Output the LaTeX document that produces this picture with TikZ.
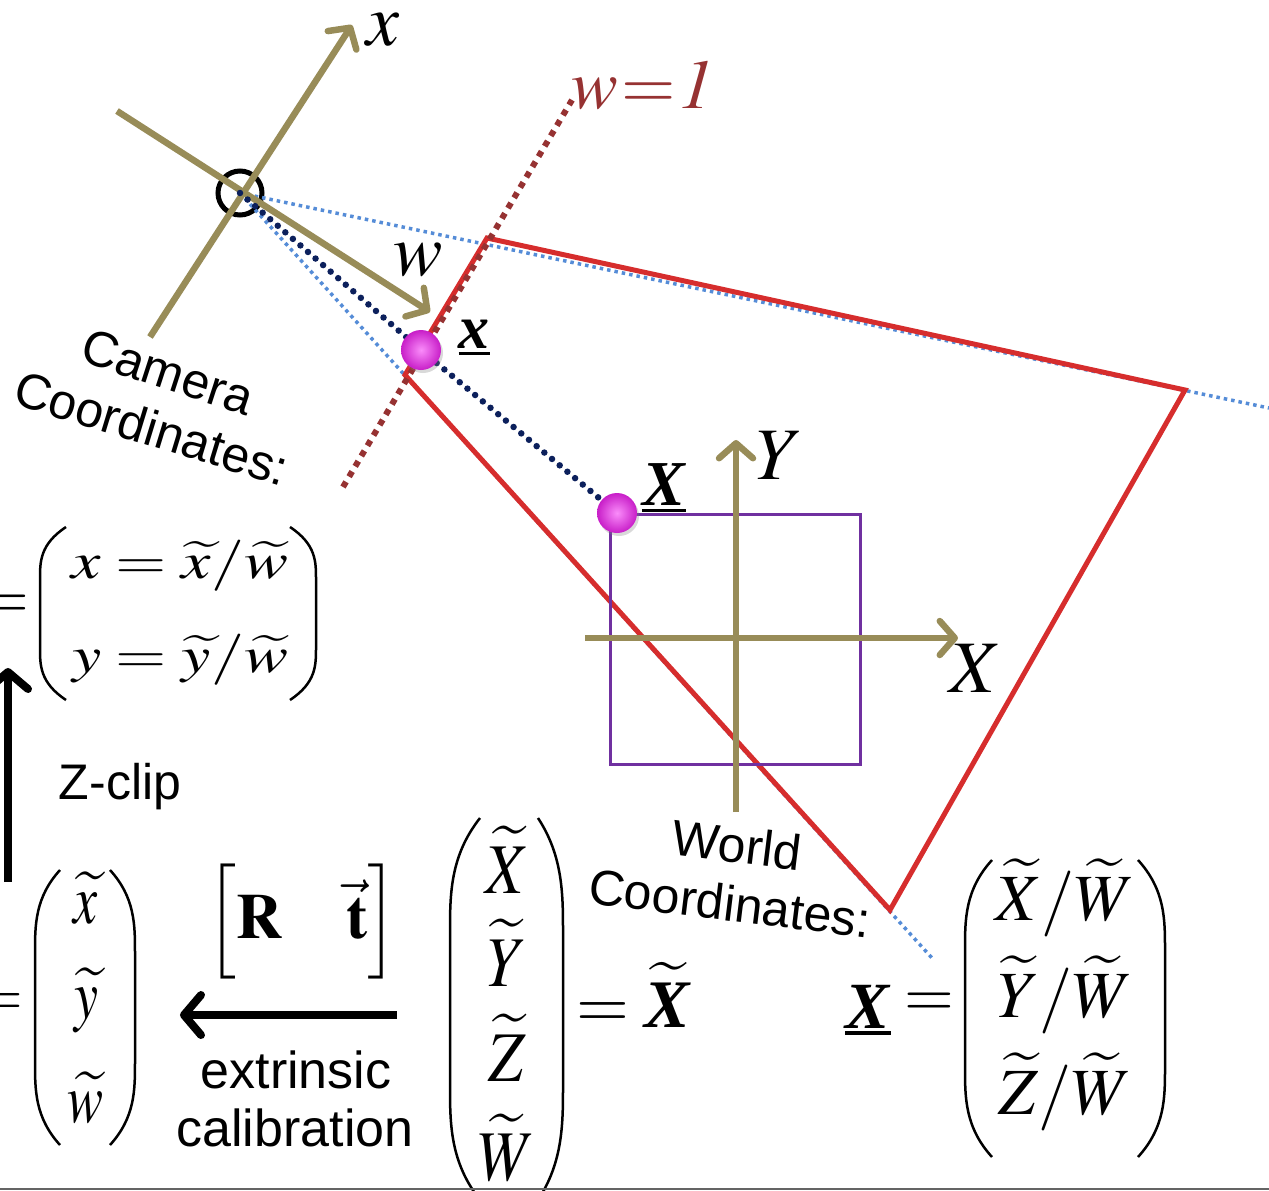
\documentclass[tikz,border=0pt]{standalone}
\usepackage{mathptmx}
\usepackage[no-math]{fontspec}
\setmainfont{Liberation Serif}
\setsansfont{Liberation Sans}
\usepackage{graphicx}
\usetikzlibrary{arrows.meta,shadows}
\definecolor{olive}{RGB}{152,140,88}
\definecolor{camred}{RGB}{214,45,45}
\definecolor{wred}{RGB}{150,50,50}
\definecolor{lblue}{RGB}{85,140,215}
\definecolor{navy}{RGB}{12,32,92}
\definecolor{purp}{RGB}{112,48,160}
\definecolor{ballin}{RGB}{250,140,250}
\definecolor{ballout}{RGB}{200,30,200}
\definecolor{bottomgray}{RGB}{100,100,100}
\newcommand\fs[1]{\fontsize{#1}{#1}\selectfont}
\newcommand\ubar[1]{\leavevmode\vtop{\hbox{#1}\kern3pt\hrule height 3.5pt}}
\newcommand\bxi{\textbf{\textit{X}}}
% outer x, inner x, top y, bottom y
\newcommand\bigparen[4]{\draw[paren] (#2,#3) .. controls (#1,{#3+0.10*(#4-#3)}) and (#1,{#3+0.2*(#4-#3)}) .. (#1,{#3+0.3*(#4-#3)}) -- (#1,{#4-0.3*(#4-#3)}) .. controls (#1,{#4-0.2*(#4-#3)}) and (#1,{#4-0.10*(#4-#3)}) .. (#2,#4);}
\begin{document}
\begin{tikzpicture}[x=1pt,y=-1pt,
  axis/.style={olive, line width=6.5pt, -{Straight Barb[length=15pt,width=34pt,round]}},
  blackarrow/.style={black, line width=8pt, -{Straight Barb[length=17pt,width=40pt,round]}},
  lbdot/.style={lblue, line width=3.5pt, dash pattern=on 3.5pt off 4pt},
  navydot/.style={navy, line width=6.5pt, line cap=round, dash pattern=on 0pt off 10pt},
  wdot/.style={wred, line width=6pt, dash pattern=on 6pt off 6pt},
  redline/.style={camred, line width=5pt},
  paren/.style={black, line width=2.5pt},
  ball/.style={circle, inner sep=0pt, minimum size=40pt, inner color=ballin, outer color=ballout, drop shadow={opacity=0.3, shadow xshift=2pt, shadow yshift=-3pt}},
  sans/.style={font=\sffamily\fs{50}, inner sep=0pt},
  lab/.style={inner sep=0pt},
]
\useasboundingbox (0,0) rectangle (1269,1191);
\clip (0,0) rectangle (1269,1191);

% coordinates
\coordinate (camx0) at (150,337); \coordinate (camx1) at (352,25);
\coordinate (camw0) at (117,111); \coordinate (camw1) at (430,312);
\coordinate (w1a) at (343,487); \coordinate (w1b) at (572,100);
\coordinate (r1) at (487,238); \coordinate (r2) at (1185,390);
\coordinate (r3) at (890,910); \coordinate (r4) at (405,375);
\coordinate (br) at (1269,408); \coordinate (bd) at (932,958);
\coordinate (Ya) at (736,812); \coordinate (Yb) at (736,440);
\coordinate (Xa) at (585,638); \coordinate (Xb) at (958,638);
\coordinate (za) at (8,882); \coordinate (zb) at (8,668);
\coordinate (ea) at (397,1015); \coordinate (eb) at (180,1015);
\coordinate (gl) at (0,1189); \coordinate (gr) at (1269,1189);
\coordinate (xpc) at (421,350); \coordinate (Xpc) at (617,513);

\node[circle, draw=black, line width=5pt, minimum size=44pt, inner sep=0pt] (C) at (240,193) {};

% rays
\draw[lbdot] (C.center) -- (br);
\draw[lbdot] (C.center) -- (bd);

% image plane quad
\draw[redline] (r1) -- (r2) -- (r3) -- (r4) -- cycle;
% w=1 plane
\draw[wdot] (w1a) -- (w1b);

% world square and axes
\draw[purp, line width=3pt] (610,514) rectangle (860,764);
\draw[axis] (Ya) -- (Yb);
\draw[axis] (Xa) -- (Xb);

% camera axes
\draw[axis] (camx0) -- (camx1);
\draw[axis] (camw0) -- (camw1);

% ray through points
\draw[navydot] (C.center) -- (xpc) -- (Xpc);
\node[ball] (xp) at (xpc) {};
\node[ball] (Xp) at (Xpc) {};

% labels
\node[lab] (lx) at (383,30) {\fs{74}$x$};
\node[lab] (lw) at (418,260) {\fs{74}$w$};
\node[lab, text=wred] (lw1) at (643,86) {\fs{70}$w\mkern-3mu=\mkern-3mu\mathit{1}$};
\node[lab] (lxu) at (474,338) {\fs{62}\ubar{\textbf{\textit{x}}}};
\node[lab] (lXu) at (664,488) {\fs{64}\ubar{\bxi}};
\node[lab] (lY) at (780,455) {\fs{74}$Y$};
\node[lab] (lX) at (976,668) {\fs{74}$X$};

\node[sans, rotate=-18] (ct1) at (168,372) {Camera};
\node[sans, rotate=-17] (ct2) at (152,428) {Coordinates:};
\node[sans, rotate=-7] (wt1) at (737,845) {World};
\node[sans, rotate=-7] (wt2) at (730,903) {Coordinates:};

% top-left matrix
\node[lab] (eqtop) at (4,607) {\fs{64}$=$};
\bigparen{40}{66}{527}{700}
\bigparen{316}{290}{527}{700}
\node[lab] (mt1) at (180,566) {\scalebox{1.03}[0.8]{\fs{64}$x=\widetilde{x}/\widetilde{w}$}};
\node[lab] (mt2) at (180,660) {\scalebox{1.03}[0.8]{\fs{64}$y=\widetilde{y}/\widetilde{w}$}};

% z-clip
\draw[blackarrow] (za) -- (zb);
\node[sans] (zclip) at (120,787) {Z-clip};

% bottom-left vector
\node[lab] (eqbl) at (0,1005) {\fs{60}$=$};
\bigparen{35}{60}{870}{1145}
\bigparen{135}{110}{870}{1145}
\node[lab] (v1) at (86,898) {\scalebox{1}[1.3]{\fs{54}$\widetilde{x}$}};
\node[lab] (v2) at (86,1000) {\scalebox{1}[1.3]{\fs{54}$\widetilde{y}$}};
\node[lab] (v3) at (86,1098) {\scalebox{1}[1.3]{\fs{54}$\widetilde{w}$}};

% extrinsic
\node[lab] (Rt) at (302,922) {\fs{64}$\left[\mathbf{R}\quad\vec{\mathbf{t}}\right]$};
\draw[blackarrow] (ea) -- (eb);
\node[sans] (ext1) at (296,1070) {\fs{52}extrinsic};
\node[sans] (ext2) at (295,1128) {\fs{52}calibration};

% big homogeneous vector
\bigparen{450}{480}{818}{1200}
\bigparen{563}{538}{818}{1200}
\node[lab] (h1) at (507,860) {\scalebox{1}[1.15]{\fs{62}$\widetilde{X}$}};
\node[lab] (h2) at (507,953) {\scalebox{1}[1.15]{\fs{62}$\widetilde{Y}$}};
\node[lab] (h3) at (507,1048) {\scalebox{1}[1.15]{\fs{62}$\widetilde{Z}$}};
\node[lab] (h4) at (507,1148) {\scalebox{1}[1.15]{\fs{62}$\widetilde{W}$}};
\node[lab] (eqX) at (634,995) {\fs{68}$=\widetilde{\hbox{\bxi}}$};

% world point vector
\node[lab] (Xu2) at (868,1010) {\fs{66}\ubar{\bxi}};
\node[lab] (eq3) at (929,1005) {\fs{64}$=$};
\bigparen{965}{992}{860}{1157}
\bigparen{1165}{1138}{860}{1157}
\node[lab] (rv1) at (1065,898) {\fs{66}$\widetilde{X}/\widetilde{W}$};
\node[lab] (rv2) at (1065,995) {\fs{66}$\widetilde{Y}/\widetilde{W}$};
\node[lab] (rv3) at (1065,1092) {\fs{66}$\widetilde{Z}/\widetilde{W}$};

\draw[bottomgray, line width=2.5pt] (gl) -- (gr);
\end{tikzpicture}
\end{document}
